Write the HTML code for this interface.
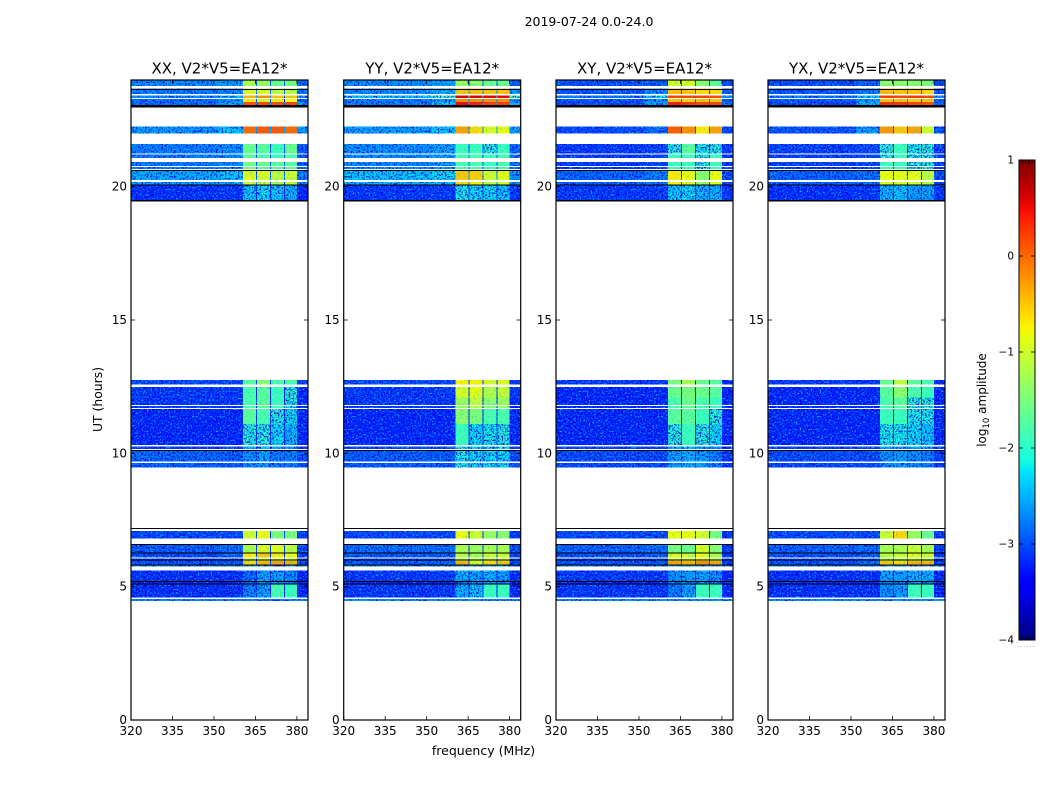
<!DOCTYPE html>
<html>
<head>
<meta charset="utf-8">
<title>2019-07-24 amplitude waterfall</title>
<style>
html,body{margin:0;padding:0;background:#fff;}
svg{display:block;}
text{font-family:"DejaVu Sans","Liberation Sans",sans-serif;fill:#000;}
</style>
</head>
<body>
<svg id="figure" xmlns="http://www.w3.org/2000/svg" width="1050" height="800" viewBox="0 0 1050 800">
  <defs>
    <filter id="grain-strong" x="0" y="0" width="1" height="1" color-interpolation-filters="sRGB">
      <feTurbulence type="fractalNoise" baseFrequency="0.55" numOctaves="2" seed="4" result="n"/>
      <feColorMatrix in="n" type="matrix" values="0 0 0 0 0  0 0 0 0 0  0 0 0 0 0.85  4 0 0 0 -1.85" result="d"/>
      <feColorMatrix in="n" type="matrix" values="0 0 0 0 0  0 0 0 0 0.7  0 0 0 0 1  0 4.5 0 0 -2.45" result="l"/>
      <feComposite in="d" in2="SourceGraphic" operator="in" result="dc"/>
      <feComposite in="l" in2="SourceGraphic" operator="in" result="lc"/>
      <feMerge><feMergeNode in="SourceGraphic"/><feMergeNode in="dc"/><feMergeNode in="lc"/></feMerge>
    </filter>
    <filter id="grain-mild" x="0" y="0" width="1" height="1" color-interpolation-filters="sRGB">
      <feTurbulence type="fractalNoise" baseFrequency="0.5" numOctaves="2" seed="9" result="n"/>
      <feColorMatrix in="n" type="matrix" values="0 0 0 0 0  0 0 0 0 0.7  0 0 0 0 0.7  1.5 0 0 0 -0.8" result="d"/>
      <feComposite in="d" in2="SourceGraphic" operator="in" result="dc"/>
      <feMerge><feMergeNode in="SourceGraphic"/><feMergeNode in="dc"/></feMerge>
    </filter>
    <linearGradient id="jet-gradient" x1="0" y1="1" x2="0" y2="0"></linearGradient>
  </defs>
  <text x="589" y="26" text-anchor="middle" font-size="12.5">2019-07-24 0.0-24.0</text>
  <text x="483.5" y="755" text-anchor="middle" font-size="12.5">frequency (MHz)</text>
  <text transform="translate(102,399.5) rotate(-90)" text-anchor="middle" font-size="12.4">UT (hours)</text>
  <text transform="translate(986,400) rotate(-90)" text-anchor="middle" font-size="12">log<tspan font-size="8.5" dy="3">10</tspan><tspan dy="-3"> amplitude</tspan></text>
  <g id="panels"></g>
  <g id="colorbar"></g>
</svg>
<script>
// ---- Chart data ----
const panelTitles = ["XX, V2*V5=EA12*", "YY, V2*V5=EA12*", "XY, V2*V5=EA12*", "YX, V2*V5=EA12*"];
const xTicks = [320, 335, 350, 365, 380];
const yTicks = [0, 5, 10, 15, 20];
const colorbarTicks = [-4, -3, -2, -1, 0, 1];
const colorbarMinorEnds = [-4, 1];

// frequency columns (MHz): background, background, four sub-bands, upper background
const freqStart = [320, 352, 360.5, 365.5, 370.6, 375.7, 380];
const freqEnd = [352, 360.5, 365.2, 370.2, 375.3, 380, 384];

// observed time ranges (UT hours), top to bottom
const bandTop = [24, 23.68, 23.41, 23.28, 23.17, 22.25, 21.6, 21.2, 20.92, 20.73, 20.58, 20.18, 20.05,
  12.75, 12.49, 12.1, 11.77, 11.66, 11.1, 10.26, 10.09, 9.64,
  7.09, 6.58, 6.26, 6.06, 5.97, 5.79, 5.6, 5.19, 5.09, 4.54];
const bandBottom = [23.78, 23.47, 23.32, 23.17, 23.06, 22, 21.25, 21.08, 20.78, 20.66, 20.25, 20.09, 19.5,
  12.58, 12.1, 11.81, 11.7, 11.1, 10.31, 10.17, 9.69, 9.46,
  6.81, 6.29, 6.1, 5.97, 5.84, 5.75, 5.21, 5.12, 4.59, 4.46];

// flagged (black) time ranges, UT hours
const flaggedTop = [23.67, 23.06, 20.63, 20.08, 19.5, 10.125, 7.2, 6.6, 6.285, 6.015, 5.825, 5.215, 5.125];
const flaggedBottom = [23.64, 22.97, 20.595, 20.05, 19.45, 10.09, 7.17, 6.565, 6.26, 5.985, 5.795, 5.185, 5.095];

// log10 amplitude per time range, per frequency column
const levelsXX = [
  [-2.6,-2.5,-1.2,-1.3,-1.6,-1.5,-2.8],[-2.7,-2.6,-0.9,-0.9,-1.1,-1.1,-2.8],[-2.6,-2.3,-0.4,-0.2,-0.5,-0.5,-2.6],
  [-2.8,-2.6,-0.7,-0.9,-0.7,-0.8,-2.9],[-2.8,-2.5,0.15,0.2,0.15,0.2,-2.5],[-2.55,-2.3,0,0.1,0.1,0,-2.5],
  [-2.7,-2.6,-1.6,-1.7,-1.9,-1.6,-2.9],[-2.7,-2.6,-1.7,-1.8,-1.9,-1.8,-2.9],[-2.7,-2.6,-1.5,-1.6,-1.7,-1.7,-2.9],
  [-2.7,-2.6,-1.5,-1.6,-1.7,-1.7,-2.9],[-2.45,-2.3,-0.9,-0.95,-1.1,-1,-2.7],[-2.5,-2.4,-1,-1,-1.2,-1,-2.7],
  [-3.15,-3.1,-2.3,-2.2,-2.3,-2.4,-3.2],
  [-3,-3,-1.7,-1.4,-1.8,-1.8,-3.1],[-3.1,-3.1,-1.8,-1.7,-1.9,-2,-3.2],[-3.1,-3.1,-1.8,-1.7,-1.9,-2.1,-3.2],
  [-3.1,-3.1,-1.8,-1.7,-1.9,-2.1,-3.2],[-3.2,-3.2,-1.7,-1.8,-2,-2.2,-3.2],[-3.2,-3.2,-2,-2,-2.2,-2.4,-3.2],
  [-3.1,-3,-2.4,-2.3,-2.4,-2.5,-3.2],[-2.85,-2.9,-2.6,-2.5,-2.7,-2.7,-3],[-2.85,-2.9,-2.6,-2.5,-2.7,-2.7,-3],
  [-3,-3,-1,-0.8,-1.5,-1.5,-3.1],[-2.9,-2.8,-1.2,-0.9,-0.9,-1.1,-3],[-3,-2.9,-0.7,-0.5,-0.7,-0.8,-3.1],
  [-3.1,-3,-1.2,-1,-1,-1.1,-3.1],[-2.95,-2.9,-0.6,-0.4,-0.3,-0.4,-3],[-2.6,-2.6,-2.4,-2.4,-2.4,-2.4,-2.7],
  [-3.15,-3.15,-2.8,-2.5,-2.5,-2.6,-3.2],[-3.2,-3.2,-2.8,-2.6,-2.6,-2.7,-3.2],[-3.15,-3.15,-2.7,-2.5,-1.8,-1.9,-3.2],
  [-2.65,-2.65,-2.65,-2.65,-2.65,-2.65,-2.65]
];
const levelsYY = [
  [-2.6,-2.5,-1.3,-1.4,-1.6,-1.6,-2.9],[-2.6,-2.4,-0.5,-0.45,-0.5,-0.5,-2.5],[-2.3,-1.9,0.6,0.6,0.55,0.55,-1.7],
  [-2.7,-2.5,-0.2,-0.2,-0.2,-0.2,-2.6],[-2.7,-2.3,0.5,0.4,0.25,0.25,-2.4],[-2.5,-2.3,-0.3,-0.6,-0.9,-0.8,-2.5],
  [-2.6,-2.5,-1.9,-1.9,-2,-1.9,-2.8],[-2.6,-2.5,-1.8,-1.8,-1.9,-1.8,-2.8],[-2.6,-2.5,-1.8,-1.8,-1.9,-1.8,-2.8],
  [-2.6,-2.5,-1.8,-1.8,-1.9,-1.8,-2.8],[-2.3,-2.2,-0.5,-0.55,-1,-0.9,-2.6],[-2.4,-2.3,-0.6,-0.7,-1.1,-1,-2.6],
  [-3.1,-3.1,-2.1,-2.2,-2.2,-2.3,-3.1],
  [-3,-3,-0.75,-0.75,-0.95,-0.9,-3.1],[-3.1,-3.1,-0.95,-0.85,-1.15,-1.05,-3.1],[-3.1,-3.1,-1.3,-1.1,-1.4,-1.3,-3.2],
  [-3.1,-3.1,-1.3,-1.1,-1.4,-1.3,-3.2],[-3.2,-3.2,-1.4,-1.5,-1.8,-1.8,-3.2],[-3.2,-3.2,-1.9,-2.2,-2.1,-2,-3.2],
  [-3,-3,-2,-2.2,-2.2,-2.1,-3.1],[-2.9,-2.9,-2.1,-2.2,-2.2,-2.2,-3],[-2.9,-2.9,-2.1,-2.2,-2.2,-2.2,-3],
  [-3,-3,-0.8,-1,-1.3,-1.4,-3.1],[-2.8,-2.8,-1.2,-1.3,-1.2,-1.2,-3],[-2.9,-2.9,-1.1,-1.2,-1,-1,-3],
  [-3,-3,-1.2,-1.2,-1.1,-1.1,-3],[-2.9,-2.8,-0.4,-0.9,-0.6,-0.5,-3],[-2.6,-2.6,-2.5,-2.5,-2.5,-2.5,-2.7],
  [-3.1,-3.1,-2.4,-2.5,-2.4,-2.5,-3.2],[-3.2,-3.2,-2.6,-2.6,-2.6,-2.6,-3.2],[-3.1,-3.1,-2.4,-2.3,-1.9,-1.9,-3.2],
  [-2.6,-2.6,-2.6,-2.6,-2.6,-2.6,-2.6]
];
const levelsXY = [
  [-2.95,-2.9,-0.95,-0.95,-1.4,-1.7,-3],[-2.95,-2.6,-0.45,-0.5,-0.6,-0.6,-2.9],[-2.7,-2.2,0.2,0.2,0.2,0.15,-2.6],
  [-2.95,-2.6,-0.5,-0.55,-0.5,-0.5,-2.9],[-3,-2.5,0.45,0.3,0.2,0.2,-2.8],[-3,-2.8,0.05,-0.2,-0.7,-0.3,-3],
  [-3.1,-3.05,-2,-1.7,-2.1,-2,-3.1],[-3.1,-3.05,-1.9,-1.9,-2,-1.9,-3.1],[-3.1,-3.05,-1.9,-1.9,-2,-1.9,-3.1],
  [-3.1,-3.05,-1.9,-1.9,-2,-1.9,-3.1],[-2.85,-2.7,-0.7,-0.8,-1.4,-0.8,-3],[-2.85,-2.7,-0.75,-0.85,-1.3,-0.9,-3],
  [-3.1,-3.1,-2.3,-2.2,-2.4,-2.4,-3.1],
  [-3.1,-3.1,-1.5,-1.2,-1.6,-1.7,-3.2],[-3.2,-3.2,-1.6,-1.5,-1.6,-1.7,-3.2],[-3.2,-3.2,-1.8,-1.6,-1.8,-1.9,-3.2],
  [-3.2,-3.2,-1.8,-1.6,-1.8,-1.9,-3.2],[-3.2,-3.2,-1.7,-1.7,-1.9,-2,-3.2],[-3.2,-3.2,-2,-1.9,-2,-2.2,-3.2],
  [-3.05,-3.05,-2.4,-2.3,-2.5,-2.6,-3.1],[-3,-3,-2.5,-2.4,-2.5,-2.7,-3.1],[-3,-3,-2.5,-2.4,-2.5,-2.7,-3.1],
  [-3,-3,-0.8,-0.8,-0.95,-1.5,-3.1],[-2.85,-2.8,-1.5,-1.6,-0.95,-1.4,-3.1],[-2.95,-2.9,-0.95,-1,-0.8,-1.2,-3.1],
  [-3,-3,-1,-1,-0.9,-1.2,-3.1],[-2.95,-2.9,-0.3,-0.4,-0.2,-0.3,-3.1],[-2.7,-2.7,-2.5,-2.5,-2.5,-2.5,-2.7],
  [-3.1,-3.1,-2.6,-2.5,-2.5,-2.6,-3.2],[-3.2,-3.2,-2.7,-2.6,-2.6,-2.7,-3.2],[-3.1,-3.1,-2.7,-2.5,-1.9,-1.9,-3.2],
  [-2.6,-2.6,-2.6,-2.6,-2.6,-2.6,-2.6]
];
const levelsYX = [
  [-2.95,-2.9,-1.4,-1.4,-1.4,-1.5,-3],[-2.9,-2.7,-0.45,-0.5,-0.5,-0.6,-2.9],[-2.7,-2.3,0.25,0.2,0.25,0.2,-2.6],
  [-2.9,-2.5,-0.5,-0.5,-0.55,-0.5,-2.9],[-3,-2.4,0.35,0.3,0.2,0.15,-2.8],[-2.95,-2.5,-0.25,-0.5,-0.3,-1,-2.9],
  [-3.05,-3,-2,-1.9,-2.1,-2,-3.1],[-3.05,-3,-2,-1.9,-2.1,-2,-3.1],[-3.05,-3,-1.9,-1.9,-2,-2,-3.1],
  [-3.05,-3,-1.9,-1.9,-2,-2,-3.1],[-2.85,-2.8,-0.8,-0.85,-0.85,-1.1,-3],[-2.85,-2.8,-0.85,-0.9,-0.9,-1.1,-3],
  [-3.15,-3.1,-2.4,-2.3,-2.5,-2.5,-3.1],
  [-3.1,-3.1,-1.6,-1.1,-1.7,-1.8,-3.2],[-3.2,-3.2,-1.7,-1.4,-1.8,-1.9,-3.2],[-3.2,-3.2,-1.8,-1.7,-2,-2,-3.2],
  [-3.2,-3.2,-1.8,-1.7,-2,-2,-3.2],[-3.2,-3.2,-1.9,-1.9,-2.1,-2.1,-3.2],[-3.2,-3.2,-2.1,-2.1,-2.2,-2.3,-3.2],
  [-3.05,-3.05,-2.5,-2.5,-2.5,-2.6,-3.1],[-3,-3,-2.6,-2.5,-2.6,-2.7,-3.1],[-3,-3,-2.6,-2.5,-2.6,-2.7,-3.1],
  [-3,-3,-1,-0.6,-1.3,-1.6,-3.1],[-2.85,-2.8,-1.2,-1.2,-1,-1.2,-3.1],[-2.95,-2.9,-1.1,-1,-0.9,-1,-3.1],
  [-3,-2.9,-1.2,-1.2,-1.1,-1.2,-3.1],[-2.95,-2.8,-0.5,-0.6,-0.4,-0.4,-3.1],[-2.7,-2.7,-2.5,-2.5,-2.5,-2.5,-2.7],
  [-3.15,-3.15,-2.5,-2.5,-2.4,-2.4,-3.2],[-3.2,-3.2,-2.6,-2.6,-2.5,-2.5,-3.2],[-3.15,-3.15,-2.6,-2.5,-1.9,-1.9,-3.2],
  [-2.6,-2.6,-2.6,-2.6,-2.6,-2.6,-2.6]
];
const panelLevels = [levelsXX, levelsYY, levelsXY, levelsYX];

// ---- Layout and scales ----
const NS = "http://www.w3.org/2000/svg";
const panelLeft = [131, 343.7, 556, 768];
const panelWidth = 177, plotTop = 80, plotBottom = 720;
const freqMin = 320, freqMax = 384, timeMax = 24;
const cbLeft = 1019, cbWidth = 16, cbTop = 160, cbBottom = 640, cbMin = -4, cbMax = 1;
const noisyBelow = -1.95;

function xScale(panel, mhz) { return panelLeft[panel] + (mhz - freqMin) / (freqMax - freqMin) * panelWidth; }
function yScale(hours) { return plotBottom - hours / timeMax * (plotBottom - plotTop); }
function cbScale(v) { return cbBottom - (v - cbMin) / (cbMax - cbMin) * (cbBottom - cbTop); }

function interp(pts, f) {
  for (let i = 1; i < pts.length; i++) {
    if (f <= pts[i][0]) {
      const a = pts[i - 1], b = pts[i];
      return a[1] + (b[1] - a[1]) * (f - a[0]) / (b[0] - a[0]);
    }
  }
  return pts[pts.length - 1][1];
}
function jet(v) {
  const f = Math.max(0, Math.min(1, (v - cbMin) / (cbMax - cbMin)));
  const r = interp([[0,0],[.35,0],[.66,1],[.89,1],[1,.5]], f);
  const g = interp([[0,0],[.125,0],[.375,1],[.64,1],[.91,0],[1,0]], f);
  const b = interp([[0,.5],[.11,1],[.34,1],[.65,0],[1,0]], f);
  return "rgb(" + Math.round(r * 255) + "," + Math.round(g * 255) + "," + Math.round(b * 255) + ")";
}
function make(tag, attrs, parent) {
  const el = document.createElementNS(NS, tag);
  for (const k in attrs) el.setAttribute(k, attrs[k]);
  parent.appendChild(el);
  return el;
}

// ---- Panels ----
const panelsRoot = document.getElementById("panels");
panelTitles.forEach(function (title, p) {
  const L = panelLeft[p], R = L + panelWidth;
  const g = make("g", {}, panelsRoot);
  
  

  const bgCells = make("g", { filter: "url(#grain-strong)", "shape-rendering": "crispEdges" }, g);
  
  
  const stripCells = make("g", { filter: "url(#grain-mild)", "shape-rendering": "crispEdges" }, g);
  
  

  panelLevels[p].forEach(function (row, b) {
    const y0 = yScale(bandTop[b]), y1 = yScale(bandBottom[b]);
    const under = make("rect", { x: xScale(p, freqEnd[1]), y: y0, width: xScale(p, freqStart[6]) - xScale(p, freqEnd[1]), height: y1 - y0, fill: jet(row[6]) }, bgCells);
    
    
    row.forEach(function (value, c) {
      const parent = (c < 2 || c === 6 || value < noisyBelow) ? bgCells : stripCells;
      const cell = make("rect", {
        x: xScale(p, freqStart[c]), y: y0,
        width: xScale(p, freqEnd[c]) - xScale(p, freqStart[c]),
        height: y1 - y0, fill: jet(value)
      }, parent);
      
      
    });
  });

  flaggedTop.forEach(function (t, i) {
    const line = make("rect", { x: L, y: yScale(t), width: panelWidth, height: Math.max(1, yScale(flaggedBottom[i]) - yScale(t)), fill: "#000", "shape-rendering": "crispEdges" }, g);
    
    
  });

  const frame = make("rect", { x: L, y: plotTop, width: panelWidth, height: plotBottom - plotTop, fill: "none", stroke: "#000", "stroke-width": 1.2 }, g);
  
  

  xTicks.forEach(function (v) {
    const x = xScale(p, v);
    const t1 = make("line", { x1: x, x2: x, y1: plotBottom, y2: plotBottom - 4, stroke: "#000", "stroke-width": 0.8 }, g);
    
    
    const t2 = make("line", { x1: x, x2: x, y1: plotTop, y2: plotTop + 4, stroke: "#000", "stroke-width": 0.8 }, g);
    
    
    const lab = make("text", { x: x, y: plotBottom + 15, "text-anchor": "middle", "font-size": 12 }, g);
    
    
    lab.textContent = String(v);
  });

  yTicks.forEach(function (v) {
    const y = yScale(v);
    const t1 = make("line", { x1: L, x2: L + 4, y1: y, y2: y, stroke: "#000", "stroke-width": 0.8 }, g);
    
    
    const t2 = make("line", { x1: R - 4, x2: R, y1: y, y2: y, stroke: "#000", "stroke-width": 0.8 }, g);
    
    
    const lab = make("text", { x: L - 4, y: y + 4, "text-anchor": "end", "font-size": 12 }, g);
    
    
    lab.textContent = String(v);
  });

  const head = make("text", { x: L + panelWidth / 2, y: 73.5, "text-anchor": "middle", "font-size": 15 }, g);
  
  
  head.textContent = title;
});

// ---- Colorbar ----
const cbRoot = document.getElementById("colorbar");
const grad = document.getElementById("jet-gradient");
for (let i = 0; i <= 40; i++) {
  const v = cbMin + (cbMax - cbMin) * i / 40;
  make("stop", { offset: (i / 40), "stop-color": jet(v) }, grad);
}
const cbBar = make("rect", { x: cbLeft, y: cbTop, width: cbWidth, height: cbBottom - cbTop, fill: "url(#jet-gradient)", stroke: "#000", "stroke-width": 1 }, cbRoot);



colorbarTicks.forEach(function (v) {
  const y = cbScale(v);
  const a = make("line", { x1: cbLeft, x2: cbLeft + 4, y1: y, y2: y, stroke: "#000", "stroke-width": 0.8 }, cbRoot);
  
  
  const b = make("line", { x1: cbLeft + cbWidth - 4, x2: cbLeft + cbWidth, y1: y, y2: y, stroke: "#000", "stroke-width": 0.8 }, cbRoot);
  
  
  const lab = make("text", { x: cbLeft - 5, y: y + 3.5, "text-anchor": "end", "font-size": 10.5 }, cbRoot);
  
  
  lab.textContent = String(v).replace("-", "\u2212");
});

colorbarMinorEnds.forEach(function (v) {
  const y = cbScale(v);
  const dir = v === cbMin ? -1 : 1;
  for (let i = 1; i <= 4; i++) {
    const x = cbLeft + cbWidth * i / 5;
    const m = make("line", { x1: x, x2: x, y1: y, y2: y + dir * 4, stroke: "#000", "stroke-width": 0.8 }, cbRoot);
    
    
  }
});

const cbDots = make("text", { x: cbLeft - 2, y: 647, "font-size": 6, "letter-spacing": "1.2px", style: "fill:#666" }, cbRoot);


cbDots.textContent = "......";
</script>
</body>
</html>
